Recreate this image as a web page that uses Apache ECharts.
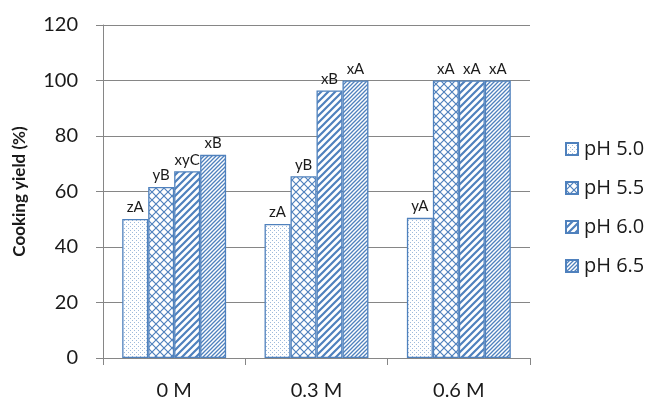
<!DOCTYPE html>
<html><head><meta charset="utf-8">
<script src="https://cdn.jsdelivr.net/npm/echarts@6/dist/echarts.min.js"></script>
<style>html,body{margin:0;padding:0;background:#fff}#c{width:651px;height:398px}</style>
</head><body><div id="c"></div>
<script>
var categories = ['0 M', '0.3 M', '0.6 M'];
var seriesNames = ['pH 5.0', 'pH 5.5', 'pH 6.0', 'pH 6.5'];
var ph50 = [50.1, 48.3, 50.5];
var ph55 = [61.6, 65.5, 100];
var ph60 = [67.3, 96.4, 100];
var ph65 = [73.2, 100, 100];
var lab50 = ['zA', 'zA', 'yA'];
var lab55 = ['yB', 'yB', 'xA'];
var lab60 = ['xyC', 'xB', 'xA'];
var lab65 = ['xB', 'xA', 'xA'];
var yTicks = [0, 20, 40, 60, 80, 100, 120];

var BLUE = '#4F81BD';
function tile(s, draw) {
  var c = document.createElement('canvas'); c.width = s; c.height = s;
  var g = c.getContext('2d'); g.fillStyle = '#fff'; g.fillRect(0, 0, s, s);
  g.strokeStyle = BLUE; g.fillStyle = BLUE; draw(g, s); return c;
}
function diag(g, s, w) {
  g.lineWidth = w; g.beginPath();
  g.moveTo(-1, s + 1); g.lineTo(s + 1, -1);
  g.moveTo(-1, 1); g.lineTo(1, -1);
  g.moveTo(s - 1, s + 1); g.lineTo(s + 1, s - 1);
  g.stroke();
}
var pDots = tile(4, function (g) { g.globalAlpha = 0.55; g.fillRect(0, 0, 1, 1); g.fillRect(2, 2, 1, 1); });
var pLattice = tile(8, function (g, s) {
  g.lineWidth = 1.2; g.beginPath();
  g.moveTo(0, 0); g.lineTo(s, s); g.moveTo(0, s); g.lineTo(s, 0);
  g.stroke();
});
var pWide = tile(7, function (g, s) { diag(g, s, 2.2); });
var pDense = tile(4, function (g, s) { diag(g, s, 1.3); });
var patterns = [pDots, pLattice, pWide, pDense];
var values = [ph50, ph55, ph60, ph65];
var labels = [lab50, lab55, lab60, lab65];

var FONT = 'Lato, "Open Sans", sans-serif';
var chart = echarts.init(document.getElementById('c'), null, { renderer: 'canvas' });
chart.setOption({
  animation: false,
  grid: { left: 103, right: 121, top: 25, bottom: 40, containLabel: false, outerBoundsMode: 'none' },
  legend: {
    orient: 'vertical', left: 560, top: 134, itemGap: 19,
    itemWidth: 12, itemHeight: 12, icon: 'rect',
    textStyle: { fontFamily: '"Open Sans", sans-serif', fontSize: 20, color: '#1a1a1a', padding: [0, 0, 0, 1] },
    data: seriesNames
  },
  xAxis: {
    type: 'category', data: categories,
    axisLine: { lineStyle: { color: '#868686', width: 1 } },
    axisTick: { show: true, length: 7, lineStyle: { color: '#868686' } },
    axisLabel: { fontFamily: FONT, fontSize: 20, color: '#1a1a1a', margin: 23 }
  },
  yAxis: {
    type: 'value', min: 0, max: 120, interval: 20,
    name: 'Cooking yield (%)', nameLocation: 'middle', nameGap: 75,
    nameTextStyle: { fontFamily: FONT, fontSize: 17, fontWeight: 'bold', color: '#1a1a1a' },
    axisLine: { show: true, lineStyle: { color: '#868686' } },
    axisTick: { show: true, length: 7, lineStyle: { color: '#868686' } },
    splitLine: { lineStyle: { color: '#868686', width: 1 } },
    axisLabel: { fontFamily: FONT, fontSize: 20, color: '#1a1a1a', margin: 25,
      formatter: function (v) { return yTicks.indexOf(v) >= 0 ? String(v) : ''; } }
  },
  series: seriesNames.map(function (n, i) {
    return {
      name: n, type: 'bar', barGap: '0%', barCategoryGap: '27%',
      data: values[i].map(function (v, j) {
        return { value: v, label: { formatter: labels[i][j] } };
      }),
      itemStyle: { color: { image: patterns[i], repeat: 'repeat' }, borderColor: BLUE, borderWidth: 1.3 },
      label: { show: true, position: 'top', distance: 4, fontFamily: FONT, fontSize: 15, color: '#1a1a1a' }
    };
  })
});
</script></body></html>
